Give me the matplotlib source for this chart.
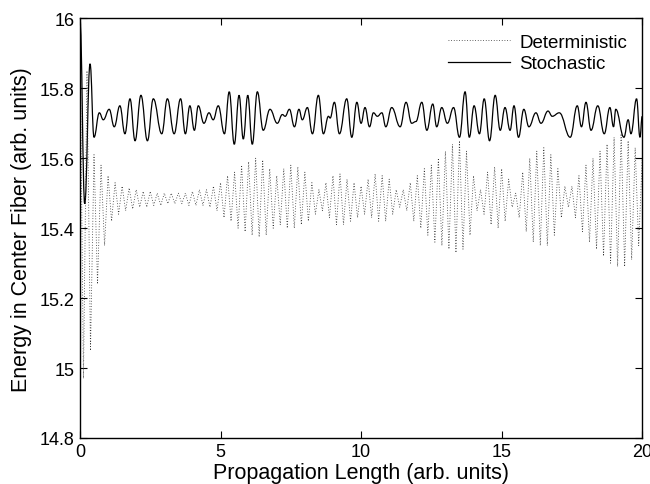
import matplotlib
matplotlib.use('Agg')
import matplotlib.pyplot as plt
from matplotlib.path import Path
from matplotlib.patches import PathPatch
import numpy as np

plt.rcParams['font.family'] = ['Liberation Sans', 'DejaVu Sans']

# Stochastic curve: turning points (x, energy)
stoch_x = [0.0, 0.17, 0.36, 0.50, 0.69, 0.83, 1.04, 1.22, 1.42, 1.60,
           1.78, 1.96, 2.17, 2.40, 2.61, 2.91, 3.11, 3.35, 3.58, 3.75,
           3.91, 4.07, 4.21, 4.41, 4.59, 4.74, 4.92, 5.14, 5.31, 5.49,
           5.66, 5.81, 5.97, 6.13, 6.31, 6.52, 6.76, 7.02, 7.20, 7.30,
           7.45, 7.63, 7.79, 7.91, 8.09, 8.27, 8.48, 8.66, 8.84, 8.90,
           9.05, 9.23, 9.49, 9.67, 9.85, 10.00, 10.14, 10.30, 10.44, 10.58,
           10.74, 10.88, 11.09, 11.39, 11.60, 11.80, 11.95, 12.16, 12.34, 12.55,
           12.69, 12.87, 13.07, 13.29, 13.50, 13.70, 13.85, 14.02, 14.21, 14.38,
           14.57, 14.77, 14.95, 15.12, 15.30, 15.44, 15.60, 15.79, 15.97, 16.22,
           16.40, 16.65, 16.80, 17.05, 17.44, 17.69, 17.84, 18.00, 18.18, 18.42,
           18.65, 18.85, 18.98, 19.06, 19.35, 19.50, 19.60, 19.80, 19.92, 20.0]
stoch_y = [16.00, 15.47, 15.87, 15.66, 15.73, 15.71, 15.74, 15.69, 15.75, 15.67,
           15.77, 15.65, 15.78, 15.65, 15.77, 15.67, 15.77, 15.67, 15.77, 15.67,
           15.75, 15.68, 15.75, 15.70, 15.73, 15.71, 15.75, 15.67, 15.79, 15.64,
           15.78, 15.655, 15.78, 15.64, 15.79, 15.68, 15.74, 15.70, 15.725, 15.72,
           15.74, 15.69, 15.74, 15.71, 15.745, 15.67, 15.78, 15.67, 15.72, 15.715,
           15.76, 15.67, 15.77, 15.66, 15.76, 15.70, 15.745, 15.69, 15.73, 15.72,
           15.73, 15.69, 15.745, 15.69, 15.76, 15.70, 15.705, 15.76, 15.68, 15.755,
           15.69, 15.745, 15.70, 15.745, 15.66, 15.79, 15.66, 15.75, 15.67, 15.77,
           15.65, 15.78, 15.68, 15.745, 15.68, 15.75, 15.66, 15.74, 15.69, 15.73,
           15.70, 15.735, 15.72, 15.73, 15.66, 15.75, 15.69, 15.76, 15.68, 15.75,
           15.67, 15.745, 15.69, 15.74, 15.66, 15.71, 15.67, 15.77, 15.66, 15.72]

# Deterministic curve: fast oscillation, peaks every 0.25 from x = 0,
# troughs every 0.25 from x = 0.125
det_peaks = [15.98, 15.85, 15.61, 15.58, 15.55, 15.53, 15.52, 15.515, 15.51, 15.505,
             15.505, 15.50, 15.50, 15.50, 15.50, 15.50, 15.505, 15.51, 15.51, 15.52,
             15.53, 15.55, 15.56, 15.58, 15.59, 15.60, 15.595, 15.57, 15.55, 15.57,
             15.58, 15.575, 15.56, 15.53, 15.51, 15.53, 15.55, 15.555, 15.54, 15.53,
             15.52, 15.54, 15.555, 15.55, 15.54, 15.51, 15.51, 15.53, 15.55, 15.57,
             15.58, 15.60, 15.62, 15.64, 15.65, 15.62, 15.55, 15.51, 15.56, 15.575,
             15.57, 15.54, 15.50, 15.56, 15.60, 15.62, 15.63, 15.61, 15.57, 15.52,
             15.52, 15.55, 15.58, 15.60, 15.62, 15.64, 15.66, 15.67, 15.65, 15.63,
             15.60]
det_troughs = [14.97, 15.05, 15.24, 15.35, 15.42, 15.44, 15.45, 15.455, 15.46, 15.46,
               15.465, 15.465, 15.47, 15.47, 15.47, 15.465, 15.465, 15.465, 15.46, 15.45,
               15.43, 15.42, 15.40, 15.39, 15.38, 15.375, 15.38, 15.40, 15.41, 15.40,
               15.40, 15.41, 15.42, 15.44, 15.45, 15.43, 15.41, 15.41, 15.42, 15.43,
               15.44, 15.43, 15.42, 15.42, 15.44, 15.46, 15.45, 15.42, 15.40, 15.38,
               15.36, 15.35, 15.34, 15.33, 15.34, 15.38, 15.45, 15.44, 15.41, 15.40,
               15.42, 15.46, 15.43, 15.39, 15.36, 15.35, 15.35, 15.38, 15.43, 15.46,
               15.43, 15.39, 15.36, 15.34, 15.32, 15.30, 15.29, 15.29, 15.31, 15.35]

n_det = len(det_peaks) + len(det_troughs)
det_x = np.arange(n_det) * 0.125
det_y = np.empty(n_det)
det_y[0::2] = det_peaks
det_y[1::2] = det_troughs

# smooth path through the stochastic turning points (flat tangents at extrema)
verts = [(stoch_x[0], stoch_y[0])]
codes = [Path.MOVETO]
for i in range(1, len(stoch_x)):
    dx = stoch_x[i] - stoch_x[i - 1]
    verts += [(stoch_x[i - 1] + 0.42 * dx, stoch_y[i - 1]),
              (stoch_x[i] - 0.42 * dx, stoch_y[i]),
              (stoch_x[i], stoch_y[i])]
    codes += [Path.CURVE4] * 3

fig = plt.figure(figsize=(6.5, 4.85), dpi=100)
ax = fig.add_axes([0.123, 0.095, 0.865, 0.865])

ax.plot(det_x, det_y, color='#333333', linestyle=(0, (1, 2.2)), linewidth=0.6,
        label='Deterministic')
ax.add_patch(PathPatch(Path(verts, codes), fill=False, edgecolor='black',
                       linewidth=0.9))
ax.plot([], [], color='black', linewidth=0.9, label='Stochastic')

ax.set_xlim(0, 20)
ax.set_ylim(14.8, 16)
ax.set_xticks([0, 5, 10, 15, 20])
ax.set_yticks([14.8, 15, 15.2, 15.4, 15.6, 15.8, 16])
ax.set_yticklabels(['14.8', '15', '15.2', '15.4', '15.6', '15.8', '16'])
ax.tick_params(direction='in', top=True, right=True, labelsize=13, length=5, pad=4)
for s in ax.spines.values():
    s.set_linewidth(1.0)
ax.set_xlabel('Propagation Length (arb. units)', fontsize=15.5, labelpad=1)
ax.set_ylabel('Energy in Center Fiber (arb. units)', fontsize=15.5, labelpad=5)

ax.legend(loc='upper right', frameon=False, fontsize=13.5, handlelength=3.3,
          borderaxespad=0.4, labelspacing=0.25, handletextpad=0.5)

fig.savefig('out.png', dpi=100)
